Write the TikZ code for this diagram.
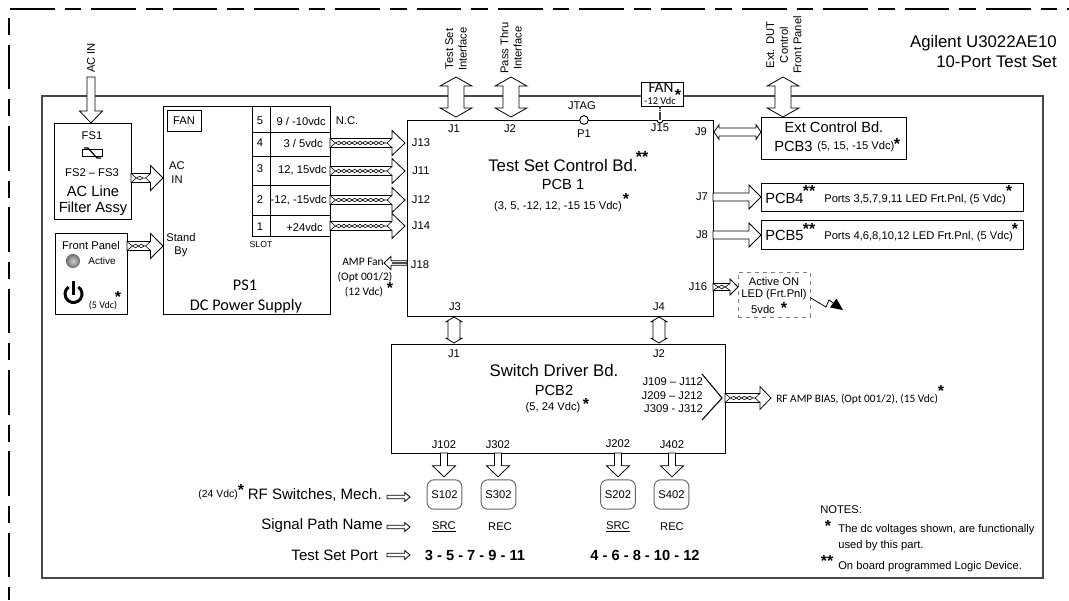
\documentclass[tikz,border=0pt]{standalone}
\usepackage{fontspec}
\setmainfont{Liberation Sans}
\newfontfamily\calfont{Carlito}
\usetikzlibrary{calc,arrows.meta,decorations.pathmorphing}
\colorlet{frameC}{black!72}
\colorlet{ledC}{black!45}
\tikzset{
  txt/.style={inner sep=0pt,font=\fontsize{8.4}{10}\selectfont,align=center},
  txtS/.style={txt,font=\fontsize{6.5}{8}\selectfont},
  txtM/.style={txt,font=\fontsize{11}{13}\selectfont},
  txtR/.style={txt,font=\fontsize{11.3}{13}\selectfont},
  txtL/.style={txt,font=\fontsize{12.6}{15}\selectfont},
  calS/.style={txt,font=\calfont\fontsize{8.6}{10}\selectfont},
  calL/.style={txt,font=\calfont\fontsize{12.2}{15}\selectfont},
  starmk/.style={anchor=north,inner sep=0pt,font=\fontsize{12}{12}\selectfont\bfseries},
  boardbox/.style 2 args={draw,fill=white,line width=.75pt,inner sep=0pt,outer sep=0pt,minimum width=#1*.75pt,minimum height=#2*.75pt},
  switchbox/.style={draw=black!60,line width=.7pt,rounded corners=5pt,inner sep=0pt,outer sep=0pt,minimum width=26pt,minimum height=22pt,font=\fontsize{8.4}{10}\selectfont},
  % shaft half width / head half width / head length
  fatarrow/.style args={#1/#2/#3}{draw=black,fill=white,line width=.6pt,to path={
    ($(\tikztostart)!#1!90:(\tikztotarget)$)
    -- ($(\tikztotarget)!#3!(\tikztostart)!#1!-90:(\tikztostart)$)
    -- ($(\tikztotarget)!#3!(\tikztostart)!#2!-90:(\tikztostart)$)
    -- (\tikztotarget)
    -- ($(\tikztotarget)!#3!(\tikztostart)!#2!90:(\tikztostart)$)
    -- ($(\tikztotarget)!#3!(\tikztostart)!#1!90:(\tikztostart)$)
    -- ($(\tikztostart)!#1!-90:(\tikztotarget)$) -- cycle}},
  dblarrow/.style args={#1/#2/#3}{draw=black,fill=white,line width=.6pt,to path={
    (\tikztostart)
    -- ($(\tikztostart)!#3!(\tikztotarget)!#2!90:(\tikztotarget)$)
    -- ($(\tikztostart)!#3!(\tikztotarget)!#1!90:(\tikztotarget)$)
    -- ($(\tikztotarget)!#3!(\tikztostart)!#1!-90:(\tikztostart)$)
    -- ($(\tikztotarget)!#3!(\tikztostart)!#2!-90:(\tikztostart)$)
    -- (\tikztotarget)
    -- ($(\tikztotarget)!#3!(\tikztostart)!#2!90:(\tikztostart)$)
    -- ($(\tikztotarget)!#3!(\tikztostart)!#1!90:(\tikztostart)$)
    -- ($(\tikztostart)!#3!(\tikztotarget)!#1!-90:(\tikztotarget)$)
    -- ($(\tikztostart)!#3!(\tikztotarget)!#2!-90:(\tikztotarget)$) -- cycle}},
  % wires inside a cable arrow
  twisted/.style args={#1/#2/#3}{draw=black,line width=.45pt,to path={
    ($(\tikztostart)!#1!90:(\tikztotarget)$) -- ($(\tikztostart)!4pt!(\tikztotarget)$)
    decorate[decoration={snake,amplitude=1.3pt,segment length=8pt}]{-- ($(\tikztotarget)!#3+3.6pt!(\tikztostart)$)}
    -- ($(\tikztotarget)!#3!(\tikztostart)!#1!-90:(\tikztostart)$)
    ($(\tikztostart)!#1!-90:(\tikztotarget)$) -- ($(\tikztostart)!4pt!(\tikztotarget)$)
    decorate[decoration={snake,amplitude=1.3pt,segment length=8pt,mirror}]{-- ($(\tikztotarget)!#3+3.6pt!(\tikztostart)$)}
    -- ($(\tikztotarget)!#3!(\tikztostart)!#1!90:(\tikztostart)$)}},
}
\newcommand{\cablearrow}[3]{%
  \draw[fatarrow=#1] (#2) to (#3);
  \draw[twisted=#1] (#2) to (#3);}
\begin{document}
\begin{tikzpicture}[x=.75pt,y=-.75pt]
  \useasboundingbox (0,0) rectangle (1069,600);
  % Dashed outline of the test set
  \draw[line width=1pt,dash pattern=on 33.4pt off 7.5pt on 12.7pt off 7.4pt] (10,9) -- (1069,9);
  \draw[line width=1pt,dash pattern=on 12.7pt off 7.4pt on 33.4pt off 7.5pt] (9,18) -- (9,600);
  % Chassis
  \node[boardbox={1001}{482},draw=frameC,line width=1.3pt] (chassis) at (542.5,337) {};

  % Boards and assemblies
  \node[boardbox={77}{96}] (filter) at (92.5,171) {};
  \node[boardbox={72}{81}] (front) at (91,273.5) {};
  \node[boardbox={167}{208}] (ps1) at (246.5,210) {};
  \node[boardbox={306}{196}] (ctrl) at (560,218) {};
  \node[boardbox={334}{109}] (driver) at (558,398.5) {};
  \node[boardbox={145}{42}] (extc) at (833.5,138) {};
  \node[boardbox={262}{28}] (pcb4) at (892,197) {};
  \node[boardbox={262}{29}] (pcb5) at (892,234.5) {};
  \node[boardbox={72}{45},draw=black!50,dashed] (ledbox) at (774,294.5) {};

  % Power supply slots
  \node[boardbox={34}{21}] (psfan) at (184,120.5) {};
  \draw[line width=.7pt] (252,106) -- (252,236) -- (330,236);
  \draw[line width=.7pt] (270,106) -- (270,236);
  \foreach \y in {132,156,185,215}
    \draw[line width=.7pt] (252,\y) -- (330,\y);

  % Connector labels
  \node[txt] (j1) at (454,129) {J1};
  \node[txt] (j2) at (510,129) {J2};
  \node[txt] (jtag) at (582,106) {JTAG};
  \node[txt] (p1) at (584,134) {P1};
  \node[txt] (j15) at (660,128) {J15};
  \node[txt] (j9) at (701,132) {J9};
  \node[txt] (j13) at (421,143) {J13};
  \node[txt] (j11) at (421,171) {J11};
  \node[txt] (j12) at (421,200) {J12};
  \node[txt] (j14) at (421,226) {J14};
  \node[txt] (j18) at (420,265) {J18};
  \node[txt] (j7) at (702,197) {J7};
  \node[txt] (j8) at (702,235) {J8};
  \node[txt] (j16) at (698,287) {J16};
  \node[txt] (j3) at (455,307) {J3};
  \node[txt] (j4) at (659,307) {J4};
  \node[txt] (dj1) at (454,354) {J1};
  \node[txt] (dj2) at (659,354) {J2};
  \node[txt] (j102) at (444,445) {J102};
  \node[txt] (j302) at (498,445) {J302};
  \node[txt] (j202) at (618,444) {J202};
  \node[txt] (j402) at (672,445) {J402};

  % Free ends of the arrows that leave the chassis
  \coordinate (acin) at (91,77);
  \coordinate (tsif) at (456,77);
  \coordinate (ptif) at (511,77);
  \coordinate (dutif) at (783,77);

  % Arrows through the chassis
  \draw[fatarrow=3pt/8.6pt/9pt] (acin) to (filter.north -| acin);
  \draw[dblarrow=6pt/12pt/6.8pt] (tsif) to ($(ctrl.north -| tsif)+(0,-3)$);
  \draw[dblarrow=6pt/12pt/6.8pt] (ptif) to ($(ctrl.north -| ptif)+(0,-3)$);
  \draw[dblarrow=6pt/12pt/6.8pt] (dutif) to (extc.north -| dutif);

  % Power cables
  \node[txt] (acl) at (177,166) {AC};
  \node[txt] (acl2) at (177,180) {IN};
  \node[txt] (stl) at (181,237) {Stand};
  \node[txt] (stl2) at (181,252) {By};
  \coordinate (acy) at (0,178);
  \coordinate (sby) at (0,246);
  \cablearrow{3.4pt/9.4pt/9.4pt}{filter.east |- acy}{ps1.west |- acy}
  \cablearrow{3.4pt/9.4pt/9.4pt}{front.east |- sby}{ps1.west |- sby}
  \cablearrow{3.4pt/9.4pt/9.8pt}{ps1.east |- j13}{$(ctrl.west |- j13)+(-2,0)$}
  \cablearrow{3.4pt/9.4pt/9.8pt}{ps1.east |- j11}{$(ctrl.west |- j11)+(-2,0)$}
  \cablearrow{3.4pt/9.4pt/9.8pt}{ps1.east |- j12}{$(ctrl.west |- j12)+(-2,0)$}
  \cablearrow{3.4pt/9.4pt/9.8pt}{ps1.east |- j14}{$(ctrl.west |- j14)+(-2,0)$}

  % Control board outputs
  \coordinate (ampy) at (0,263);
  \coordinate (ampt) at (384,263);
  \draw[fatarrow=1.7pt/4.9pt/5.2pt] (ctrl.west |- ampy) to (ampt);
  \draw[line width=.9pt,black!70] (ctrl.west |- ampy) -- ($(ampt)+(8,0)$);
  \draw[dblarrow=3pt/5.6pt/3.8pt] ($(ctrl.east |- j9)+(1,0)$) to (extc.west |- j9);
  \draw[fatarrow=3pt/9pt/9pt] (ctrl.east |- j7) to (pcb4.west |- j7);
  \draw[fatarrow=3pt/9pt/9pt] (ctrl.east |- j8) to (pcb5.west |- j8);
  \cablearrow{2.6pt/6pt/6pt}{ctrl.east |- j16}{ledbox.west |- j16}
  \draw[dblarrow=4.5pt/6pt/3.6pt] ($(ctrl.south -| dj1)+(0,1)$) to ($(driver.north -| dj1)+(0,-1)$);
  \draw[dblarrow=4.5pt/6pt/3.6pt] ($(ctrl.south -| dj2)+(0,1)$) to ($(driver.north -| dj2)+(0,-1)$);

  % Fan and JTAG on top of the control board
  \node[boardbox={42}{24},line width=.7pt] (fan) at (662,94) {};
  \draw[line width=1.9pt,black!75,dash pattern=on 1.2pt off .2pt] (fan.south -| j15) -- (ctrl.north -| j15);
  \draw[fill=white,line width=.7pt] ($(ctrl.north -| j15)+(-3,0)$) arc[start angle=180,end angle=0,radius=3];
  \node[circle,draw,fill=white,line width=.7pt,inner sep=0pt,minimum size=6.5pt] (p1pin) at (ctrl.north -| p1) {};

  % Switch driver outputs
  \coordinate (rfy) at (0,398);
  \coordinate (rft) at (771,398);
  \cablearrow{3.4pt/8.6pt/8.3pt}{driver.east |- rfy}{rft}
  \draw[line width=.8pt] (702,374) -- (722,398) -- (702,420);
  \node[boardbox={35}{29},switchbox] (s102) at (444.5,494.5) {S102};
  \node[boardbox={35}{29},switchbox] (s302) at (498.5,494.5) {S302};
  \node[boardbox={35}{29},switchbox] (s202) at (618,494.5) {S202};
  \node[boardbox={35}{29},switchbox] (s402) at (671.5,494.5) {S402};
  \draw[fatarrow=2.6pt/8.6pt/8.3pt] (driver.south -| j102) to ($(s102.north -| j102)+(0,-3)$);
  \draw[fatarrow=2.6pt/8.6pt/8.3pt] (driver.south -| j302) to ($(s302.north -| j302)+(0,-3)$);
  \draw[fatarrow=2.6pt/8.6pt/8.3pt] (driver.south -| j202) to ($(s202.north -| j202)+(0,-3)$);
  \draw[fatarrow=2.6pt/8.6pt/8.3pt] (driver.south -| j402) to ($(s402.north -| j402)+(0,-3)$);

  % Outside labels
  \node[txt,rotate=90] (acinl) at (91,58) {AC IN};
  \node[txt,rotate=90] (tsifl) at (456,49) {Test Set\\Interface};
  \node[txt,rotate=90] (ptifl) at (511,48) {Pass Thru\\Interface};
  \node[txt,rotate=90,font=\fontsize{8.4}{10.2}\selectfont] (dutifl) at (784,45) {Ext. DUT\\Control\\Front Panel};
  \node[txtL,anchor=east,align=right,font=\fontsize{12.6}{15}\selectfont] (title) at (1057,51) {Agilent U3022AE10\\10-Port Test Set};

  % Filter assembly
  \node[txt] (fs1) at (92,136) {FS1};
  \node[draw,line width=.7pt,inner sep=0pt,minimum width=15pt,minimum height=5pt] (fuse) at (92,153) {};
  \draw[line width=.9pt] ($(fuse)+(-8,-5)$) -- ++(4,0) -- ++(9,10) -- ++(4,0);
  \node[txt] (fs2) at (92,173) {FS2 -- FS3};
  \node[txtM] (acfa) at (93,191) {AC Line};
  \node[txtM] (acfb) at (93,209) {Filter Assy};

  % Front panel
  \node[txt] (fpl) at (91,245) {Front Panel};
  \node[circle,draw=black!60,inner sep=0pt,minimum size=10pt,inner color=black!20,outer color=black!55] (led) at (73,261) {};
  \node[txt,font=\fontsize{7.5}{9}\selectfont] (activel) at (102,261) {Active};
  \coordinate (pwr) at (73.5,294);
  \draw[line width=2.2pt] ($(pwr)+(4.9,-7)$) arc[start angle=55,end angle=-235,radius=6.4pt];
  \draw[line width=2.2pt] ($(pwr)+(0,-13)$) -- ($(pwr)+(0,1)$);
  \node[calS,font=\calfont\fontsize{7.5}{9}\selectfont] (v5) at (103,306) {(5 Vdc)};
  \node[starmk] (stfront) at (118,291) {*};

  % Power supply
  \node[txt] (fanl) at (184,121) {FAN};
  \node[txt] (s5) at (260,121) {5};
  \node[txt] (s4) at (260,143) {4};
  \node[txt] (s3) at (260,169) {3};
  \node[txt] (s2) at (260,200) {2};
  \node[txt] (s1) at (260,227) {1};
  \node[txt,anchor=east] (v9) at (326,121) {9 / -10vdc};
  \node[txt,anchor=east] (v3) at (323,143) {3 / 5vdc};
  \node[txt,anchor=east] (v12) at (327,170) {12, 15vdc};
  \node[txt,anchor=east] (vm12) at (327,200) {-12, -15vdc};
  \node[txt,anchor=east] (v24) at (323,227) {+24vdc};
  \node[txt] (nc) at (347,121) {N.C.};
  \node[txtS] (slot) at (261,245) {SLOT};
  \node[calL] (ps1a) at (245,285) {PS1};
  \node[calL] (ps1b) at (246,306) {DC Power Supply};
  \node[calS,anchor=east] (ampa) at (384,262) {AMP Fan};
  \node[calS] (ampb) at (365,277) {(Opt 001/2)};
  \node[calS] (ampc) at (364,292) {(12 Vdc)};
  \node[starmk] (stamp) at (390,282) {*};

  % Control board text
  \node[txtL] (ctrla) at (563,165) {Test Set Control Bd.};
  \node[starmk] (stctrl) at (642,151) {**};
  \node[txtM] (ctrlb) at (563,184) {PCB 1};
  \node[txt] (ctrlc) at (558,207) {(3, 5, -12, 12, -15 15 Vdc)};
  \node[starmk] (stctrlv) at (626,193) {*};
  \node[calS,font=\calfont\fontsize{11.5}{12}\selectfont] (fana) at (661,88) {FAN};
  \node[calS,font=\calfont\fontsize{7.8}{9}\selectfont] (fanb) at (660,101) {-12 Vdc};
  \node[starmk] (stfan) at (678,89) {*};

  % Ext control and LED boards
  \node[txtM] (extca) at (834,127) {Ext Control Bd.};
  \node[txtM,anchor=west] (extcb) at (774,146) {PCB3};
  \node[txt,anchor=west] (extcc) at (817,147) {(5, 15, -15 Vdc)};
  \node[starmk] (stextc) at (897,138) {*};
  \node[txtM,anchor=west] (pcb4a) at (765,198) {PCB4};
  \node[starmk] (stpcb4) at (809,185) {**};
  \node[txt,anchor=west] (pcb4b) at (824,200) {Ports 3,5,7,9,11 LED Frt.Pnl, (5 Vdc)};
  \node[starmk] (stpcb4v) at (1009,185) {*};
  \node[txtM,anchor=west] (pcb5a) at (765,235) {PCB5};
  \node[starmk] (stpcb5) at (809,223) {**};
  \node[txt,anchor=west] (pcb5b) at (824,237) {Ports 4,6,8,10,12 LED Frt.Pnl, (5 Vdc)};
  \node[starmk] (stpcb5v) at (1015,223) {*};
  \node[txt] (leda) at (774,281) {Active ON};
  \node[txt] (ledb) at (774,295) {LED (Frt.Pnl)};
  \node[txt] (ledc) at (763,309) {5vdc};
  \node[starmk] (stled) at (784,302) {*};
  \coordinate (ledtip) at (843,310);
  \draw[line width=.6pt,-{Triangle[length=9pt,width=8pt]}] ($(ledbox.east)+(0,3)$) -- (826,307) -- (829,300) -- (ledtip);

  % Switch driver text
  \node[txtL] (drva) at (554,370) {Switch Driver Bd.};
  \node[txtM] (drvb) at (554,390) {PCB2};
  \node[txt] (drvc) at (553,408) {(5, 24 Vdc)};
  \node[starmk] (stdrv) at (586,398) {*};
  \node[txt,anchor=east] (jr1) at (703,382) {J109 -- J112};
  \node[txt,anchor=east] (jr2) at (703,396) {J209 -- J212};
  \node[txt,anchor=east] (jr3) at (703,409) {J309 - J312};
  \node[calS,font=\calfont\fontsize{8.5}{10}\selectfont,anchor=west] (rfbias) at (776,399) {RF AMP BIAS, (Opt 001/2), (15 Vdc)};
  \node[starmk] (strf) at (941,385) {*};

  % Legend rows
  \coordinate (lega) at (410,497);
  \coordinate (legb) at (410,527);
  \coordinate (legc) at (410,555);
  \node[txt,font=\fontsize{7.8}{9}\selectfont,anchor=east] (v24l) at (238,495) {(24 Vdc)};
  \node[starmk] (st24) at (241,484) {*};
  \node[txtR,anchor=east] (rowa) at (382,495) {RF Switches, Mech.};
  \node[txtR,anchor=east] (rowb) at (383,526) {Signal Path Name};
  \node[txtR,anchor=east] (rowc) at (378,555) {Test Set Port};
  \draw[fatarrow=1.3pt/3.4pt/4pt] ($(lega)+(-23,0)$) to (lega);
  \draw[fatarrow=1.3pt/3.4pt/4pt] ($(legb)+(-23,0)$) to (legb);
  \draw[fatarrow=1.3pt/3.4pt/4pt] ($(legc)+(-23,0)$) to (legc);
  \node[txt] (srca) at (444,527) {\underline{SRC}};
  \node[txt] (reca) at (500,527) {REC};
  \node[txt] (srcb) at (618,527) {\underline{SRC}};
  \node[txt] (recb) at (672,527) {REC};
  \node[txtM,font=\fontsize{11}{13}\selectfont\bfseries] (ptsa) at (475,555) {3 - 5 - 7 - 9 - 11};
  \node[txtM,font=\fontsize{11}{13}\selectfont\bfseries] (ptsb) at (645,555) {4 - 6 - 8 - 10 - 12};

  % Notes
  \node[txt,anchor=west] (notes) at (820,510) {NOTES:};
  \node[starmk] (stnote) at (828,520) {*};
  \node[txt,anchor=west] (notea) at (838,530) {The dc voltages shown, are functionally};
  \node[txt,anchor=west] (noteb) at (838,546) {used by this part.};
  \node[starmk] (stnoteb) at (827,555) {**};
  \node[txt,anchor=west] (notec) at (838,567) {On board programmed Logic Device.};
\end{tikzpicture}
\end{document}
